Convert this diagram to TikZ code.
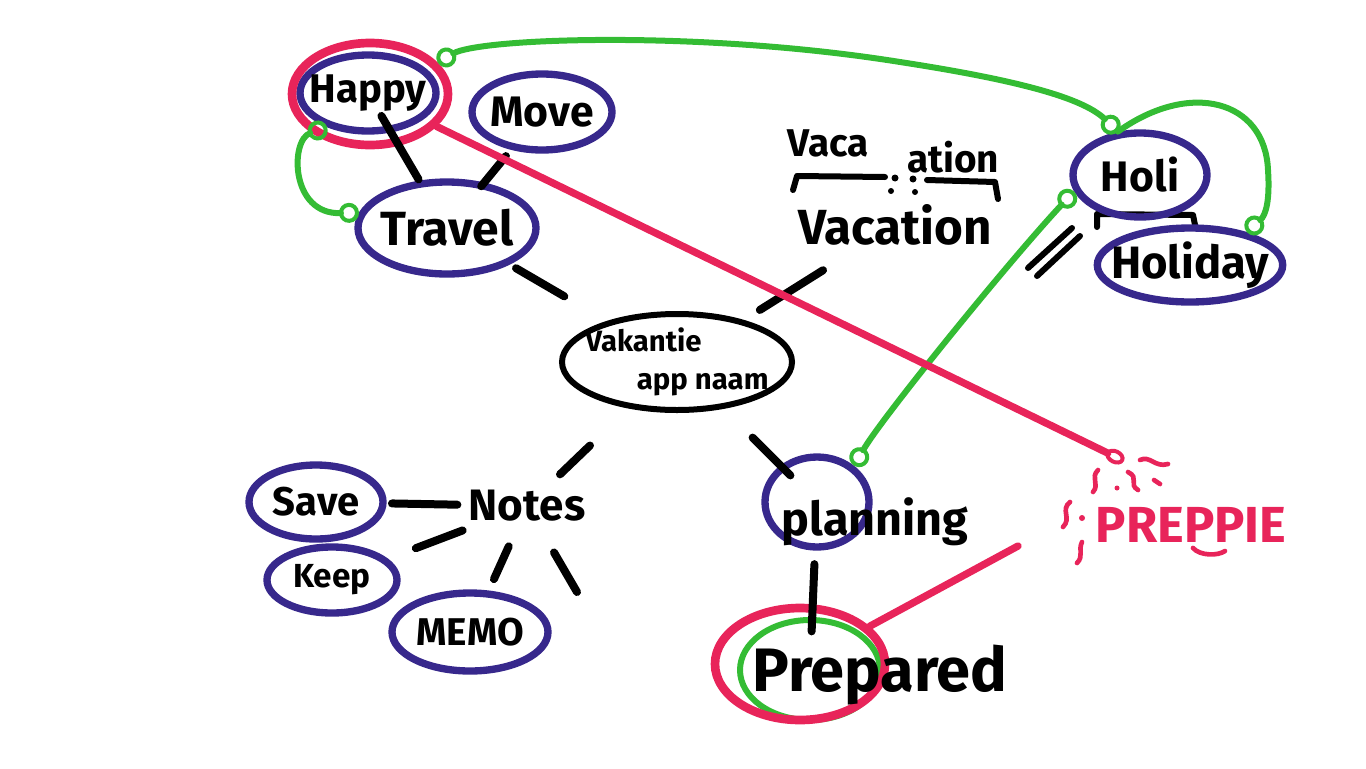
\documentclass[tikz,border=0pt]{standalone}
\usepackage{fontspec}
\setmainfont{Fira Sans}
\usetikzlibrary{shapes.geometric,arrows.meta,calc}

\newcommand{\fsz}[1]{\fontsize{#1}{#1}\selectfont\bfseries}

\tikzset{every picture/.style={line width=0.75pt}}
\tikzset{
  ring/.style={ellipse, draw={rgb, 255:red, 55; green, 40; blue, 140}, line width=5.5pt, inner sep=-10pt},
  redring/.style={ellipse, draw={rgb, 255:red, 232; green, 36; blue, 90}, line width=6.5pt, inner sep=0pt},
  greenring/.style={ellipse, draw={rgb, 255:red, 52; green, 188; blue, 52}, line width=4.5pt, inner sep=0pt},
  word/.style={inner sep=0pt},
  blackstroke/.style={line width=6pt, line cap=round},
  greenlink/.style={draw={rgb, 255:red, 52; green, 188; blue, 52}, line width=4.5pt, line cap=round},
  redlink/.style={draw={rgb, 255:red, 232; green, 36; blue, 90}, line width=5.5pt, line cap=round},
  knob/.tip={Circle[open, length=15pt, width=15pt, line width=3pt]},
}

\begin{document}
\begin{tikzpicture}[x=0.75pt,y=0.75pt,yscale=-1,xscale=1]
\useasboundingbox (0,0) rectangle (1366,768);

%Shape: Ellipse [happy, move, travel]
\node[ring, minimum width=102pt, minimum height=57pt, font=\fsz{30}] (happy) at (368,93) {Happy};
\node[redring, minimum width=117pt, minimum height=76.5pt] (happyred) at (370,94) {};
\node[ring, minimum width=105pt, minimum height=57pt, font=\fsz{32}] (move) at (542,112) {Move};
\node[ring, minimum width=133.5pt, minimum height=69pt, font=\fsz{36}] (travel) at (447,228) {Travel};

%Shape: Ellipse [centre]
\node[ring, draw=black, line width=4.5pt, minimum width=172.5pt, minimum height=72pt, align=left, font=\fontsize{22}{28.5}\selectfont\bfseries] (app) at (677,362) {Vakantie\\\hspace*{1.75em}app naam};

% Text Node
\node[word, font=\fsz{37}] (vacation) at (895,225) {Vacation};
\node[word, font=\fsz{29}] (vaca) at (828,143) {Vaca};
\node[word, font=\fsz{29}] (ation) at (953,157) {ation};
%Straight Lines [split mark]
\draw[blackstroke, line width=4.5pt, line join=round] (793,190) -- (797,176) -- (885,177);
\draw[blackstroke, line width=4.5pt, line join=round] (927,180) -- (995,182) -- (998,199);
\fill (895,178) circle (3.5) (913,179) circle (3.5) (891,191) circle (3) (915,192) circle (3);

%Shape: Ellipse [holi, holiday]
\draw[blackstroke, line width=4.5pt, line join=round] (1097,227) -- (1097,214) -- (1193,215) -- (1195,225);
\node[ring, minimum width=100.5pt, minimum height=63pt, font=\fsz{32}] (holi) at (1140,175) {Holi};
\node[ring, minimum width=132pt, minimum height=55.5pt, font=\fsz{34}] (holiday) at (1190,265) {Holiday};
\draw[blackstroke, line width=4.5pt] (1072,228) -- (1028,268);
\draw[blackstroke, line width=4.5pt] (1080,236) -- (1037,276);

% Text Node
\node[word, font=\fsz{33}] (notes) at (527,506) {Notes};
\node[ring, minimum width=100.5pt, minimum height=55.5pt, font=\fsz{30}] (save) at (316,502) {Save};
\node[ring, minimum width=97.5pt, minimum height=49.5pt, font=\fsz{25}] (keep) at (332,580) {Keep};
\node[ring, minimum width=117pt, minimum height=58.5pt, font=\fsz{29}] (memo) at (470,632) {MEMO};
\coordinate (notestip) at (577,592);

%Shape: Ellipse [planning, prepared]
\node[ring, minimum width=78pt, minimum height=67.5pt] (planring) at (817,502) {};
\node[word, font=\fsz{35}] (planning) at (875,522) {planning};
\node[greenring, minimum width=105pt, minimum height=75pt] (prepgreen) at (810,670) {};
\node[redring, minimum width=127.5pt, minimum height=84pt] (prepred) at (800,664) {};
\node[word, font=\fsz{46}] (prepared) at (880,675) {Prepared};

% Text Node
\node[word, font=\fsz{38}, text={rgb, 255:red, 232; green, 36; blue, 90}] (preppie) at (1191,525) {PREPPIE};
\coordinate (preppiedot) at (1124,461);
\coordinate (preppiefoot) at (1018,546);

%Straight Lines [black strokes]
\draw[blackstroke] ($(happy)!0.17!(travel)$) -- ($(happy)!0.64!(travel)$);
\draw[blackstroke] ($(move)!0.38!(travel)$) -- ($(move)!0.64!(travel)$);
\draw[blackstroke] ($(travel)!0.30!(app)$) -- ($(travel)!0.51!(app)$);
\draw[blackstroke] ($(vacation)!0.33!(app)$) -- ($(vacation)!0.62!(app)$);
\draw[blackstroke] ($(app)!0.58!(notes)$) -- ($(app)!0.78!(notes)$);
\draw[blackstroke] ($(app)!0.54!(planring)$) -- ($(app)!0.81!(planring)$);
\draw[blackstroke] ($(planring)!0.37!(prepgreen)$) -- ($(planring)!0.77!(prepgreen)$);
\draw[blackstroke] ($(notes)!0.33!(save)$) -- ($(notes)!0.64!(save)$);
\draw[blackstroke] ($(notes)!0.33!(keep)$) -- ($(notes)!0.57!(keep)$);
\draw[blackstroke] ($(notes)!0.32!(memo)$) -- ($(notes)!0.58!(memo)$);
\draw[blackstroke] ($(notes)!0.54!(notestip)$) -- (notestip);

%Curve Lines [green links]
\draw[greenlink, knob-knob] (happyred.25) .. controls (480,38) and (700,30) .. (900,62) .. controls (1030,82) and (1085,100) .. (holi.117);
\draw[greenlink, -knob] (holi.117) .. controls (1190,80) and (1265,100) .. (1268,170) .. controls (1270,200) and (1266,215) .. (holiday.30);
\draw[greenlink, knob-knob] (holi.194) .. controls (1010,260) and (880,420) .. (planring.44);
\draw[greenlink, knob-knob] (happy.220) .. controls (290,140) and (290,215) .. (travel.170);

%Straight Lines [red links]
\draw[redlink, -{Circle[open, length=15pt, width=11pt, line width=3pt]}] (happyred) -- (preppiedot);
\draw[redlink] (prepred) -- (preppiefoot);

%Curve Lines [sparkles]
\begin{scope}[redlink, line width=3.5pt]
\draw (1140,460) .. controls (1150,455) and (1155,468) .. (1168,464);
\draw (1098,470) .. controls (1090,478) and (1100,484) .. (1093,492);
\draw (1128,472) .. controls (1140,478) and (1128,484) .. (1138,490);
\draw (1154,480) -- (1160,484);
\draw (1070,502) .. controls (1060,510) and (1072,518) .. (1063,527);
\draw (1082,542) .. controls (1078,550) and (1084,556) .. (1077,563);
\draw (1193,548) .. controls (1200,556) and (1218,556) .. (1225,551);
\end{scope}
\fill[fill={rgb, 255:red, 232; green, 36; blue, 90}] (1117,488) circle (2.5) (1082,518) circle (3);

\end{tikzpicture}
\end{document}
